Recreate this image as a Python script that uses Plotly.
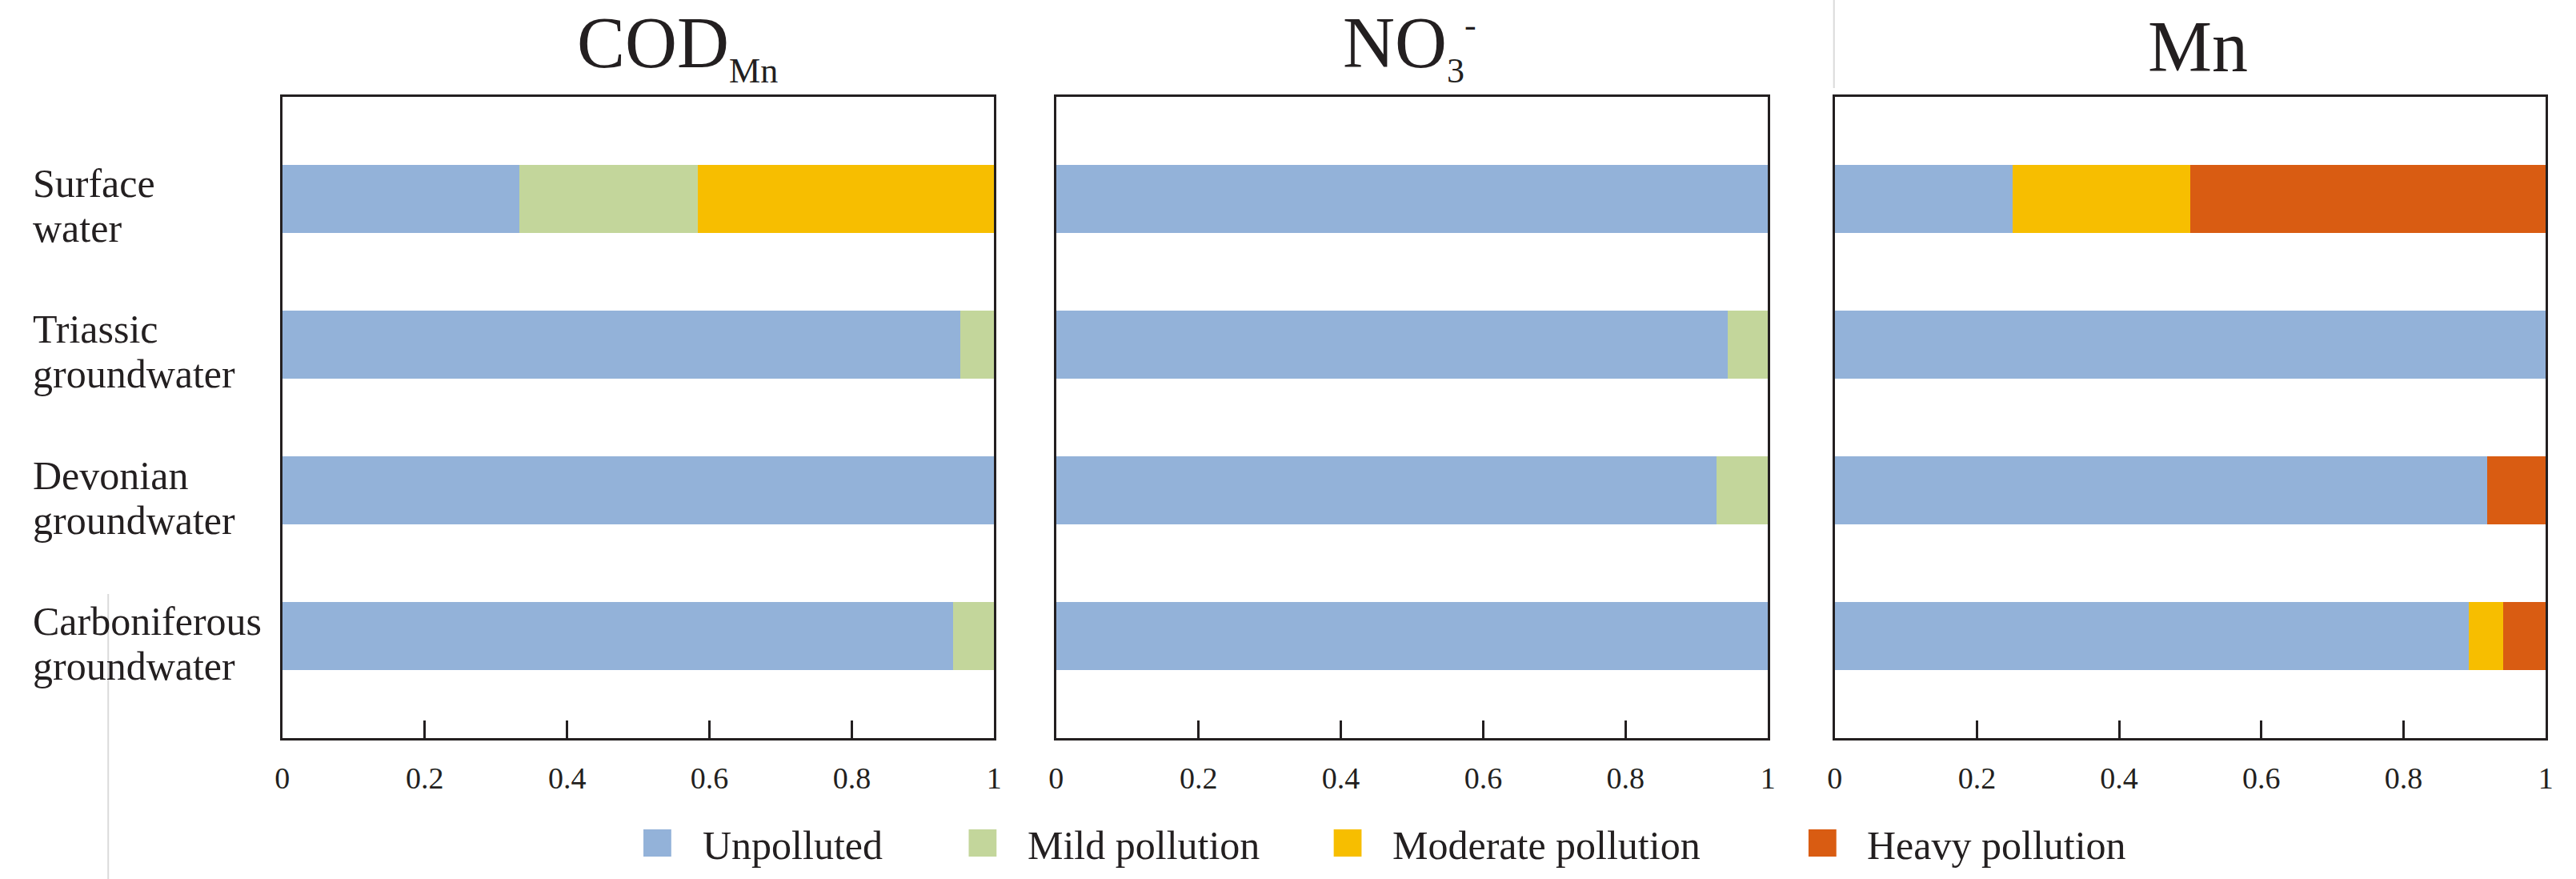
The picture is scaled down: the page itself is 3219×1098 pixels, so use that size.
import plotly.graph_objects as go

# ---------------- data ----------------
sources = ["Surface water", "Triassic groundwater", "Devonian groundwater", "Carboniferous groundwater"]
levels = ["Unpolluted", "Mild pollution", "Moderate pollution", "Heavy pollution"]
level_colors = ["#93B2D9", "#C3D69B", "#F7BE00", "#D95C12"]

x_tickvals = [0, 0.2, 0.4, 0.6, 0.8, 1]
x_ticktext = ["0", "0.2", "0.4", "0.6", "0.8", "1"]

panel_titles = [
    "COD<sub><span style='font-size:44px'>Mn</span></sub>",
    "NO<sub><span style='font-size:44px'>3</span></sub><sup><span style='font-size:44px'>-</span></sup>",
    "Mn",
]

cod_unpolluted = [0.333, 0.952, 1.000, 0.942]
cod_mild       = [0.250, 0.048, 0.000, 0.058]
cod_moderate   = [0.417, 0.000, 0.000, 0.000]
cod_heavy      = [0.000, 0.000, 0.000, 0.000]

no3_unpolluted = [1.000, 0.943, 0.928, 1.000]
no3_mild       = [0.000, 0.057, 0.072, 0.000]
no3_moderate   = [0.000, 0.000, 0.000, 0.000]
no3_heavy      = [0.000, 0.000, 0.000, 0.000]

mn_unpolluted  = [0.250, 1.000, 0.917, 0.892]
mn_mild        = [0.000, 0.000, 0.000, 0.000]
mn_moderate    = [0.250, 0.000, 0.000, 0.048]
mn_heavy       = [0.500, 0.000, 0.083, 0.060]

panels = [
    [cod_unpolluted, cod_mild, cod_moderate, cod_heavy],
    [no3_unpolluted, no3_mild, no3_moderate, no3_heavy],
    [mn_unpolluted, mn_mild, mn_moderate, mn_heavy],
]

# ---------------- layout geometry (pixels) ----------------
W, H = 3219, 1098
FONT = "Liberation Serif, Times New Roman, serif"
panel_px = [(345, 1240), (1318, 2213), (2297, 3191)]
plot_top, plot_bottom = 121, 922
title_x_px = [842, 1762, 2754]
title_y_px = 59
label_x_px = 29
legend_square_px = [799, 1208, 1667, 2264]
legend_y_px = (1036, 1070)


def px(x):
    return x / W


def py(y):
    return 1 - y / H


fig = go.Figure()

for p, series in enumerate(panels):
    xa = "x" if p == 0 else f"x{p + 1}"
    ya = "y" if p == 0 else f"y{p + 1}"
    for lvl, vals, col in zip(levels, series, level_colors):
        fig.add_trace(go.Bar(
            x=vals, y=sources, orientation="h", name=lvl,
            marker=dict(color=col, line=dict(width=0)),
            width=0.47, xaxis=xa, yaxis=ya, showlegend=False,
        ))

layout = dict(
    width=W, height=H,
    margin=dict(l=0, r=0, t=0, b=0),
    paper_bgcolor="white", plot_bgcolor="white",
    barmode="stack", bargap=0,
    font=dict(family=FONT, color="#231F20"),
    showlegend=False,
)

for p, (x0, x1) in enumerate(panel_px):
    suffix = "" if p == 0 else str(p + 1)
    layout["xaxis" + suffix] = dict(
        domain=[px(x0), px(x1)], range=[0, 1], anchor="y" + suffix,
        showline=True, mirror=True, linecolor="#231F20", linewidth=3,
        showgrid=False, zeroline=False,
        ticks="inside", ticklen=22, tickwidth=2.5, tickcolor="#231F20",
        tickvals=x_tickvals, ticktext=x_ticktext,
        tickfont=dict(family=FONT, size=38, color="#231F20"),
        ticklabelstandoff=14,
    )
    layout["yaxis" + suffix] = dict(
        domain=[py(plot_bottom), py(plot_top)], anchor="x" + suffix,
        type="category", categoryorder="array", categoryarray=sources,
        range=[3.7, -0.7],
        showline=True, mirror=True, linecolor="#231F20", linewidth=3,
        showgrid=False, zeroline=False, ticks="", showticklabels=False,
    )

fig.update_layout(**layout)

annotations = []
# panel titles
for t, tx in zip(panel_titles, title_x_px):
    annotations.append(dict(
        text=t, xref="paper", yref="paper", x=px(tx), y=py(title_y_px),
        xanchor="center", yanchor="middle", showarrow=False,
        font=dict(family=FONT, size=90, color="#231F20"),
    ))
# category labels (two lines each)
for s in sources:
    first, second = s.split(" ", 1)
    for txt, shift in ((first, 19), (second, -37)):
        annotations.append(dict(
            text=txt, xref="paper", yref="y", x=px(label_x_px), y=s,
            xanchor="left", yanchor="middle", yshift=shift, showarrow=False,
            font=dict(family=FONT, size=50, color="#231F20"),
        ))
# legend (custom, large squares)
shapes = []
for lvl, col, sx in zip(levels, level_colors, legend_square_px):
    shapes.append(dict(
        type="rect", xref="paper", yref="paper",
        x0=px(sx), x1=px(sx + 35), y0=py(legend_y_px[1]), y1=py(legend_y_px[0]),
        fillcolor=col, line=dict(width=0),
    ))
    annotations.append(dict(
        text=lvl, xref="paper", yref="paper", x=px(sx + 72),
        y=py(sum(legend_y_px) / 2 + 3), xanchor="left", yanchor="middle",
        showarrow=False, font=dict(family=FONT, size=50, color="#231F20"),
    ))
# faint composition lines present in the source image
shapes.append(dict(type="line", xref="paper", yref="paper",
                   x0=px(126), x1=px(126), y0=0, y1=py(742),
                   line=dict(color="#DADADA", width=2)))
shapes.append(dict(type="line", xref="paper", yref="paper",
                   x0=px(2296), x1=px(2296), y0=py(110), y1=1,
                   line=dict(color="#DADADA", width=2)))

fig.update_layout(annotations=annotations, shapes=shapes)

fig.write_html("out.html", config={"displayModeBar": False},
               post_script="document.body.style.margin='0';")
